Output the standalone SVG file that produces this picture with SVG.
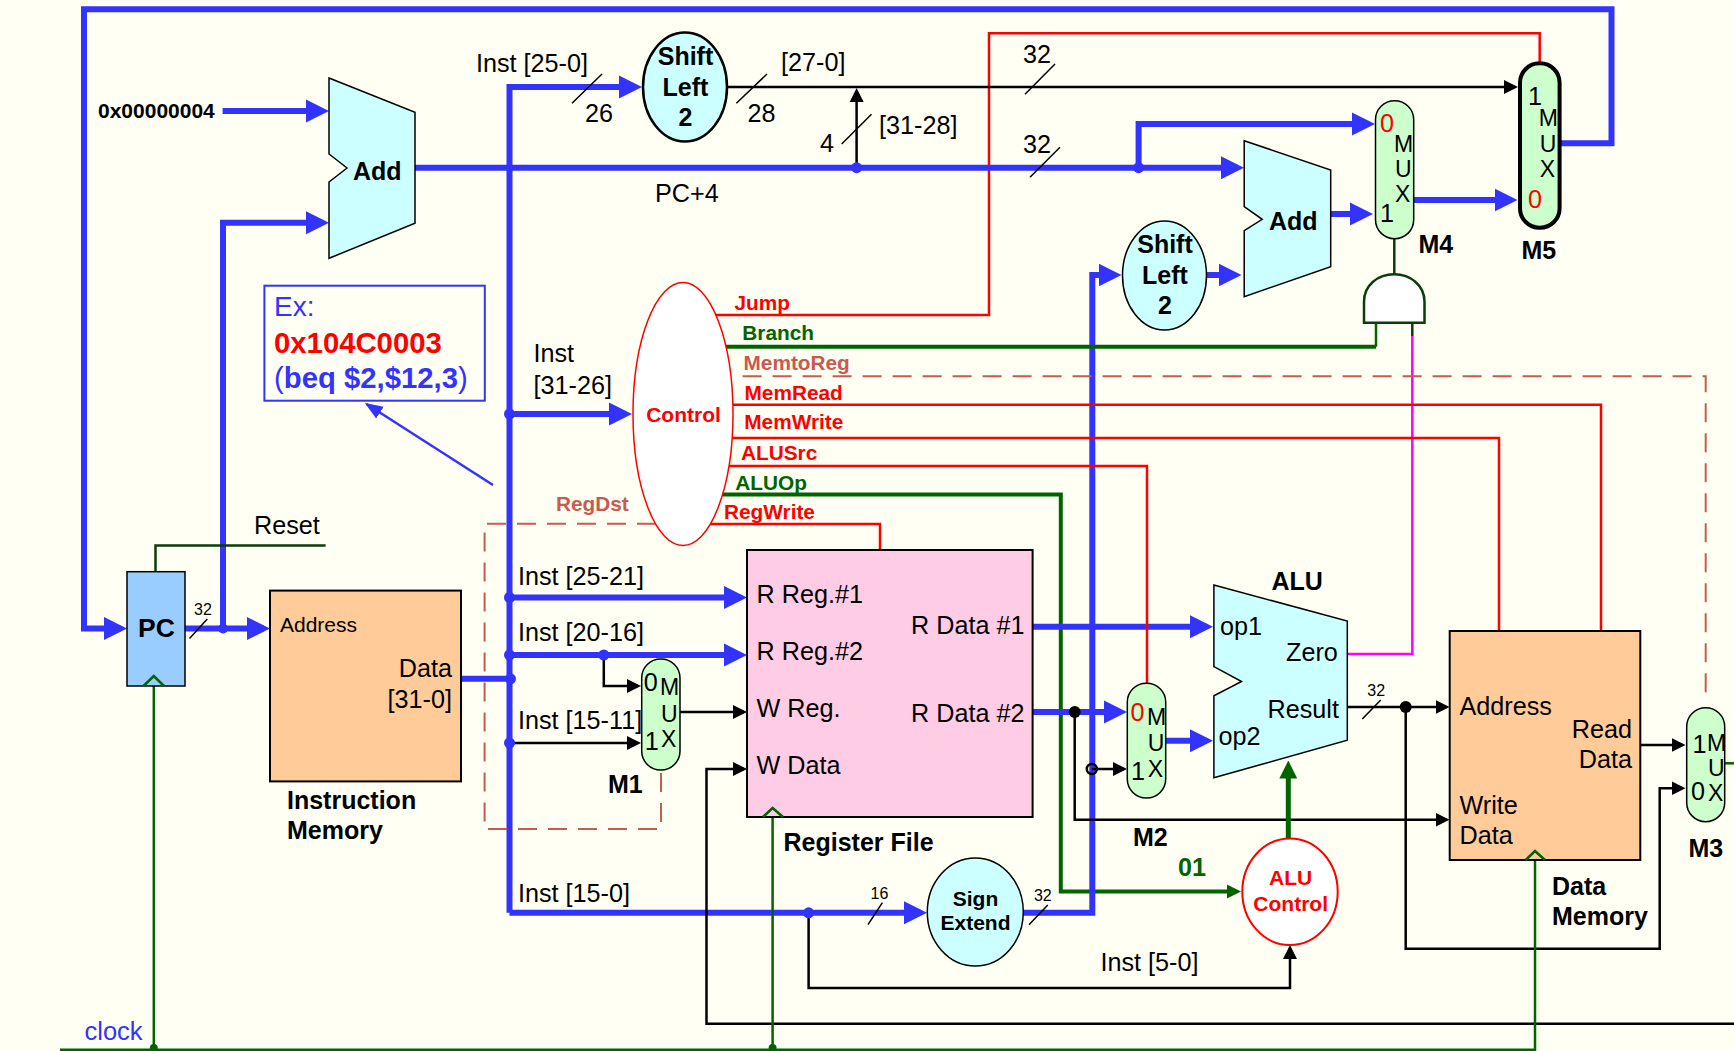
<svg xmlns="http://www.w3.org/2000/svg" width="1734" height="1051" viewBox="0 0 1734 1051">
<style>
text{font-family:"Liberation Sans",Arial,sans-serif;font-size:25.2px;fill:#000}
.b{font-weight:bold;font-size:25px}
.cb{font-weight:bold;font-size:21px;text-anchor:middle}
.sh{font-weight:bold;font-size:25px;text-anchor:middle}
.s{font-size:16px}
.m{font-size:23px}
.z{font-size:25.2px;fill:#f00}
.lr{font-weight:bold;font-size:20.800px;fill:#f00}
.lg{font-weight:bold;font-size:20.800px;fill:#006400}
.lb{font-weight:bold;font-size:20.800px;fill:#c85a50}
.blue{fill:none;stroke:#3333ff;stroke-width:6;marker-end:url(#ab)}
.bus{fill:none;stroke:#3333ff;stroke-width:6}
.blka{fill:none;stroke:#000;stroke-width:2.5;marker-end:url(#ak)}
.red{fill:none;stroke:#f00;stroke-width:2.5}
.dash{fill:none;stroke:#c85a50;stroke-width:2;stroke-dasharray:19 11}
.clk{fill:none;stroke:#006400;stroke-width:2.5}
.dg{fill:none;stroke:#0a3d0a;stroke-width:2.5}
.gt{fill:none;stroke:#006400;stroke-width:4}
.sl{stroke:#000;stroke-width:1.5;fill:none}
.ad{fill:#ccffff;stroke:#000;stroke-width:1.5}
.mx{fill:#ccffcc;stroke:#000;stroke-width:1.5}
.dot{fill:#3333ff}
.kd{fill:#000}
</style>
<defs>
<marker id="ab" markerUnits="userSpaceOnUse" markerWidth="24" markerHeight="24" refX="17" refY="12" orient="auto" viewBox="0 0 24 24"><path d="M0 .5L23 12L0 23.500z" fill="#3333ff"/></marker>
<marker id="ak" markerUnits="userSpaceOnUse" markerWidth="16" markerHeight="16" refX="11" refY="8" orient="auto" viewBox="0 0 16 16"><path d="M0 1L14 8L0 15z" fill="#000"/></marker>
<marker id="ag" markerUnits="userSpaceOnUse" markerWidth="18" markerHeight="18" refX="11" refY="9" orient="auto" viewBox="0 0 18 18"><path d="M0 0L18 9L0 18z" fill="#006400"/></marker>
<marker id="agt" markerUnits="userSpaceOnUse" markerWidth="14" markerHeight="16" refX="7" refY="8" orient="auto" viewBox="0 0 14 16"><path d="M0 1L14 8L0 15z" fill="#006400"/></marker>
<marker id="abt" markerUnits="userSpaceOnUse" markerWidth="18" markerHeight="16" refX="16" refY="8" orient="auto" viewBox="0 0 18 16"><path d="M0 1L18 8L0 15z" fill="#3333ff"/></marker>
</defs>
<rect width="1734" height="1051" fill="#fffff3"/>
<g id="connectors">
<path class="red" d="M716 315H989V33.300H1539.700V63.300"/>
<path class="gt" d="M723 494.400H1060.800V891.500H1234" style="marker-end:url(#agt)"/>
<path class="blue" d="M1559.600 143.300H1611.500V9.300H84V628.500H121"/>
<path class="blue" d="M222.600 111H323"/>
<path class="blue" d="M185 628.500H264"/>
<path class="blue" d="M223 628.500V222.700H323"/>
<path class="blue" d="M415 167.700H1238"/>
<path class="blue" d="M1138.600 167.700V124H1369"/>
<path class="blue" d="M509.500 912.800V87H636"/>
<path class="blue" d="M509.500 912.800H921"/>
<path class="bus" d="M461 678.800H509.500"/>
<path class="blue" d="M509.500 414H626"/>
<path class="blue" d="M509.500 597.500H741"/>
<path class="blue" d="M509.500 655H741"/>
<path class="blue" d="M1331 214H1367"/>
<path class="blue" d="M1414 200H1511.500"/>
<path class="blue" d="M1023 912.800H1092.300V275H1115.500"/>
<path class="blue" d="M1206 275H1235.500"/>
<path class="blue" d="M1032.600 626.700H1207"/>
<path class="blue" d="M1032.600 712H1121"/>
<path class="blue" d="M1165.700 740.800H1207"/>
<path class="blka" d="M727 87H1515"/>
<path class="blka" d="M856.600 167.700V91"/>
<path class="blka" d="M603.800 655V686H638"/>
<path class="blka" d="M509.500 743H638"/>
<path class="blka" d="M680 712H744"/>
<path class="blka" d="M1734 1023.700H706.500V769H744"/>
<path class="blka" d="M1074.700 712V819.700H1446.500"/>
<path class="blka" d="M1091.800 769H1124"/>
<path class="blka" d="M1347.300 707H1446.500"/>
<path class="blka" d="M1405.700 707V948.700H1659.700V788.300H1682.500"/>
<path class="blka" d="M1640.300 745H1682.500"/>
<path class="blka" d="M808.600 912.800V988H1290V948"/>
<circle cx="1091.800" cy="769" r="5" fill="none" stroke="#000" stroke-width="2.500"/>
<path class="gt" d="M726 346.700H1376"/>
<path class="clk" d="M1376 346.700V322.700"/>
<path class="dg" d="M1394.300 238.700V274.300"/>
<path class="dg" d="M1412.300 322.700V336"/>
<path d="M1412.300 336V654H1348" fill="none" stroke="#ff00ff" stroke-width="2.500"/>
<path class="dash" d="M742.600 376.300H1705.700V699"/>
<path class="red" d="M733 404.700H1601V631"/>
<path class="red" d="M732 438H1499V631"/>
<path class="red" d="M729 466H1147V683"/>
<path class="red" d="M710 524H880V550"/>
<path class="dash" d="M656 523.800H484.600V829H661V770"/>
<path d="M1288.300 838.300V767.500" style="fill:none;stroke:#006400;stroke-width:5;marker-end:url(#ag)"/>
<path class="clk" d="M60 1049.800H1535V860"/>
<path class="clk" d="M153.800 1049.800V686"/>
<path class="clk" d="M772.600 1049.800V817"/>
<circle cx="153.800" cy="1048" r="4" fill="#006400"/>
<circle cx="772.600" cy="1048" r="4" fill="#006400"/>
<path class="clk" d="M1724.700 763.300H1734"/>
<path class="dg" d="M155.500 571.700V545.500H325.600"/>
<circle class="dot" cx="223" cy="628.500" r="5"/>
<circle class="dot" cx="856.600" cy="167.700" r="5.500"/>
<circle class="dot" cx="1138.600" cy="167.700" r="5.500"/>
<circle class="dot" cx="509.500" cy="414" r="5.500"/>
<circle class="dot" cx="509.500" cy="597.500" r="5.500"/>
<circle class="dot" cx="509.500" cy="655" r="5.500"/>
<circle class="dot" cx="510.500" cy="678.800" r="5.500"/>
<circle class="dot" cx="509.500" cy="743" r="5.500"/>
<circle class="dot" cx="603.800" cy="655" r="5.500"/>
<circle class="dot" cx="808.600" cy="912.800" r="5.500"/>
<circle class="kd" cx="1074.700" cy="712" r="6"/>
<circle class="kd" cx="1405.700" cy="707" r="6"/>
<path class="sl" d="M572 103.300L602 74M736.400 103.300L767 74M841.700 144L871.500 114.300M1025 94.300L1055 64M1030 177.300L1060 147.300M189.500 638.500L207.300 619M868 924.700L882.400 902.700M1029 924.700L1047.800 905M1362.300 719L1380.700 700"/>
<path d="M493 485L366.500 404" fill="none" stroke="#3333ff" stroke-width="2.500" style="marker-end:url(#abt)"/>
</g>
<g id="add1"><path class="ad" d="M329 78L415 112.300V223.300L329 258.300V182L347 168L329 154Z"/><text class="b" x="353" y="180">Add</text></g>
<g id="add2"><path class="ad" d="M1244.200 140.700L1330.700 170V266.700L1244.200 296.700V230.700L1262.200 219.300L1244.200 206.700Z"/><text class="b" x="1269" y="230.300">Add</text></g>
<g id="shift1"><ellipse cx="685" cy="87" rx="42" ry="54.500" fill="#ccffff" stroke="#000" stroke-width="2.500"/><text class="sh" x="685.500" y="65">Shift</text><text class="sh" x="685.500" y="96">Left</text><text class="sh" x="685.500" y="125.700">2</text></g>
<g id="shift2"><ellipse cx="1164.500" cy="275.500" rx="42" ry="54.500" fill="#ccffff" stroke="#000" stroke-width="1.500"/><text class="sh" x="1165" y="252.700">Shift</text><text class="sh" x="1165" y="284.300">Left</text><text class="sh" x="1165" y="314.300">2</text></g>
<g id="m4"><rect class="mx" x="1375.500" y="100.700" width="38.200" height="138" rx="19"/><text class="z" x="1380" y="131.700">0</text><text x="1380" y="221.700">1</text><text class="m" x="1394" y="151.700">M</text><text class="m" x="1395" y="176.700">U</text><text class="m" x="1395" y="201.700">X</text><text class="b" x="1418.500" y="252.700">M4</text></g>
<g id="m5"><rect x="1520" y="63.300" width="39.600" height="164.400" rx="19.500" fill="#ccffcc" stroke="#000" stroke-width="4"/><text x="1528" y="104.500">1</text><text class="m" x="1538.700" y="126">M</text><text class="m" x="1539.700" y="152.300">U</text><text class="m" x="1539.700" y="176.700">X</text><text class="z" x="1528" y="208">0</text><text class="b" x="1521.500" y="259">M5</text></g>
<g id="and"><path d="M1364 322.700H1424.500V301.700C1424.500 285 1410 274.300 1394.300 274.300C1378 274.300 1364 285 1364 301.700Z" fill="#fff" stroke="#0a3d0a" stroke-width="2.500"/></g>
<g id="example"><rect x="264.400" y="285.700" width="220.400" height="115" fill="none" stroke="#3333ff" stroke-width="2"/><text x="274" y="316" style="font-size:28px;fill:#3333ff">Ex:</text><text x="274" y="353.300" style="font-size:29.300px;font-weight:bold;fill:#f00">0x104C0003</text><text x="274" y="387.700" style="font-size:29.300px;fill:#3333ff">(<tspan font-weight="bold">beq $2,$12,3</tspan>)</text></g>
<g id="control"><ellipse cx="683" cy="414" rx="50" ry="131.500" fill="#fff" stroke="#f00" stroke-width="1.500"/><text class="cb" x="683.500" y="421.500" style="fill:#f00">Control</text></g>
<g id="pc"><rect x="127" y="571.700" width="58" height="114.300" fill="#99ccff" stroke="#000" stroke-width="1.500"/><text x="138" y="636.500" style="font-weight:bold;font-size:26.500px">PC</text><path class="clk" d="M143.500 686L153.800 676L164 686"/></g>
<g id="imem"><rect x="270" y="590.600" width="191" height="190.800" fill="#ffcc99" stroke="#000" stroke-width="2"/><text x="280" y="632" style="font-size:21px">Address</text><text x="452" y="677.400" text-anchor="end">Data</text><text x="452" y="708" text-anchor="end">[31-0]</text><text class="b" x="287" y="809">Instruction</text><text class="b" x="287" y="838.700">Memory</text></g>
<g id="m1"><rect class="mx" x="641.700" y="659" width="38.300" height="111" rx="19"/><text x="643.800" y="691.400">0</text><text x="644.700" y="749.800">1</text><text class="m" x="660" y="695">M</text><text class="m" x="661" y="722">U</text><text class="m" x="661" y="747">X</text><text class="b" x="608" y="792.800">M1</text></g>
<g id="regfile"><rect x="747" y="550" width="285.600" height="267" fill="#ffcce6" stroke="#000" stroke-width="2"/><text x="756.500" y="603">R Reg.#1</text><text x="756.500" y="660">R Reg.#2</text><text x="756.500" y="717">W Reg.</text><text x="756.500" y="774">W Data</text><text x="911" y="634">R Data #1</text><text x="911" y="722">R Data #2</text><path class="clk" d="M763 817L772.600 808L783 817"/><text class="b" x="783.500" y="850.900">Register File</text></g>
<g id="m2"><rect class="mx" x="1127.300" y="683.200" width="38.400" height="114.800" rx="19"/><text class="z" x="1130.600" y="721">0</text><text x="1131" y="780">1</text><text class="m" x="1147" y="725">M</text><text class="m" x="1147.800" y="751">U</text><text class="m" x="1147.800" y="777">X</text><text class="b" x="1133" y="845.800">M2</text></g>
<g id="alu"><path class="ad" d="M1213.900 585L1347.300 621V740.300L1213.900 777.700V695.800L1241.600 681.500L1213.900 666.600Z"/><text class="b" x="1271.500" y="589.500">ALU</text><text x="1220" y="635">op1</text><text x="1218.500" y="745">op2</text><text x="1286" y="660.700">Zero</text><text x="1267.500" y="718">Result</text></g>
<g id="dmem"><rect x="1449.700" y="631" width="190.600" height="229" fill="#ffcc99" stroke="#000" stroke-width="2"/><text x="1459.500" y="715">Address</text><text x="1632" y="738" text-anchor="end">Read</text><text x="1632" y="768" text-anchor="end">Data</text><text x="1459.500" y="814">Write</text><text x="1459.500" y="844">Data</text><path class="clk" d="M1525.700 860L1535 851L1545 860"/><text class="b" x="1552" y="895">Data</text><text class="b" x="1552" y="925">Memory</text></g>
<g id="m3"><rect class="mx" x="1686.700" y="707.700" width="38" height="114" rx="19"/><text x="1692.500" y="752.500">1</text><text class="m" x="1707" y="750.700">M</text><text class="m" x="1708" y="776">U</text><text x="1691" y="800">0</text><text class="m" x="1708" y="801">X</text><text class="b" x="1688.500" y="857.300">M3</text></g>
<g id="signext"><ellipse cx="975.300" cy="912" rx="48" ry="54" fill="#ccffff" stroke="#000" stroke-width="1.500"/><text class="cb" x="975.500" y="905.700">Sign</text><text class="cb" x="975.500" y="930.400">Extend</text></g>
<g id="alucontrol"><ellipse cx="1290" cy="891.700" rx="47.700" ry="53.300" fill="#fff" stroke="#f00" stroke-width="2"/><text class="cb" x="1290.700" y="884.700" style="fill:#f00">ALU</text><text class="cb" x="1290.700" y="911.300" style="fill:#f00">Control</text></g>
<g id="labels">
<text x="98" y="117.800" style="font-weight:bold;font-size:21px">0x00000004</text>
<text x="476" y="71.700">Inst [25-0]</text>
<text x="585" y="121.700">26</text>
<text x="747.500" y="121.700">28</text>
<text x="781" y="70.700">[27-0]</text>
<text x="879" y="134.300">[31-28]</text>
<text x="820" y="151.700">4</text>
<text x="1023" y="62.700">32</text>
<text x="1023" y="153.300">32</text>
<text x="655" y="202">PC+4</text>
<text x="533.500" y="361.700">Inst</text>
<text x="533.500" y="393.500">[31-26]</text>
<text x="254" y="533.500">Reset</text>
<text class="s" x="194" y="615">32</text>
<text x="84.500" y="1040" style="fill:#3333ff;font-size:25.500px">clock</text>
<text x="518" y="585">Inst [25-21]</text>
<text x="518" y="641">Inst [20-16]</text>
<text x="518" y="729">Inst [15-11]</text>
<text x="518" y="902">Inst [15-0]</text>
<text class="s" x="870.600" y="898.500">16</text>
<text class="s" x="1033.900" y="900.500">32</text>
<text class="s" x="1367.300" y="695.500">32</text>
<text x="1100.500" y="971">Inst [5-0]</text>
<text x="1178" y="875.500" style="font-weight:bold;fill:#006400">01</text>
<text class="lr" x="734.500" y="310">Jump</text>
<text class="lg" x="742.300" y="339.700">Branch</text>
<text class="lb" x="743.500" y="370">MemtoReg</text>
<text class="lr" x="744.500" y="400">MemRead</text>
<text class="lr" x="744.300" y="429">MemWrite</text>
<text class="lr" x="741" y="460">ALUSrc</text>
<text class="lg" x="735.300" y="490">ALUOp</text>
<text class="lr" x="724" y="518.800">RegWrite</text>
<text class="lb" x="556" y="511">RegDst</text>
</g>
</svg>
